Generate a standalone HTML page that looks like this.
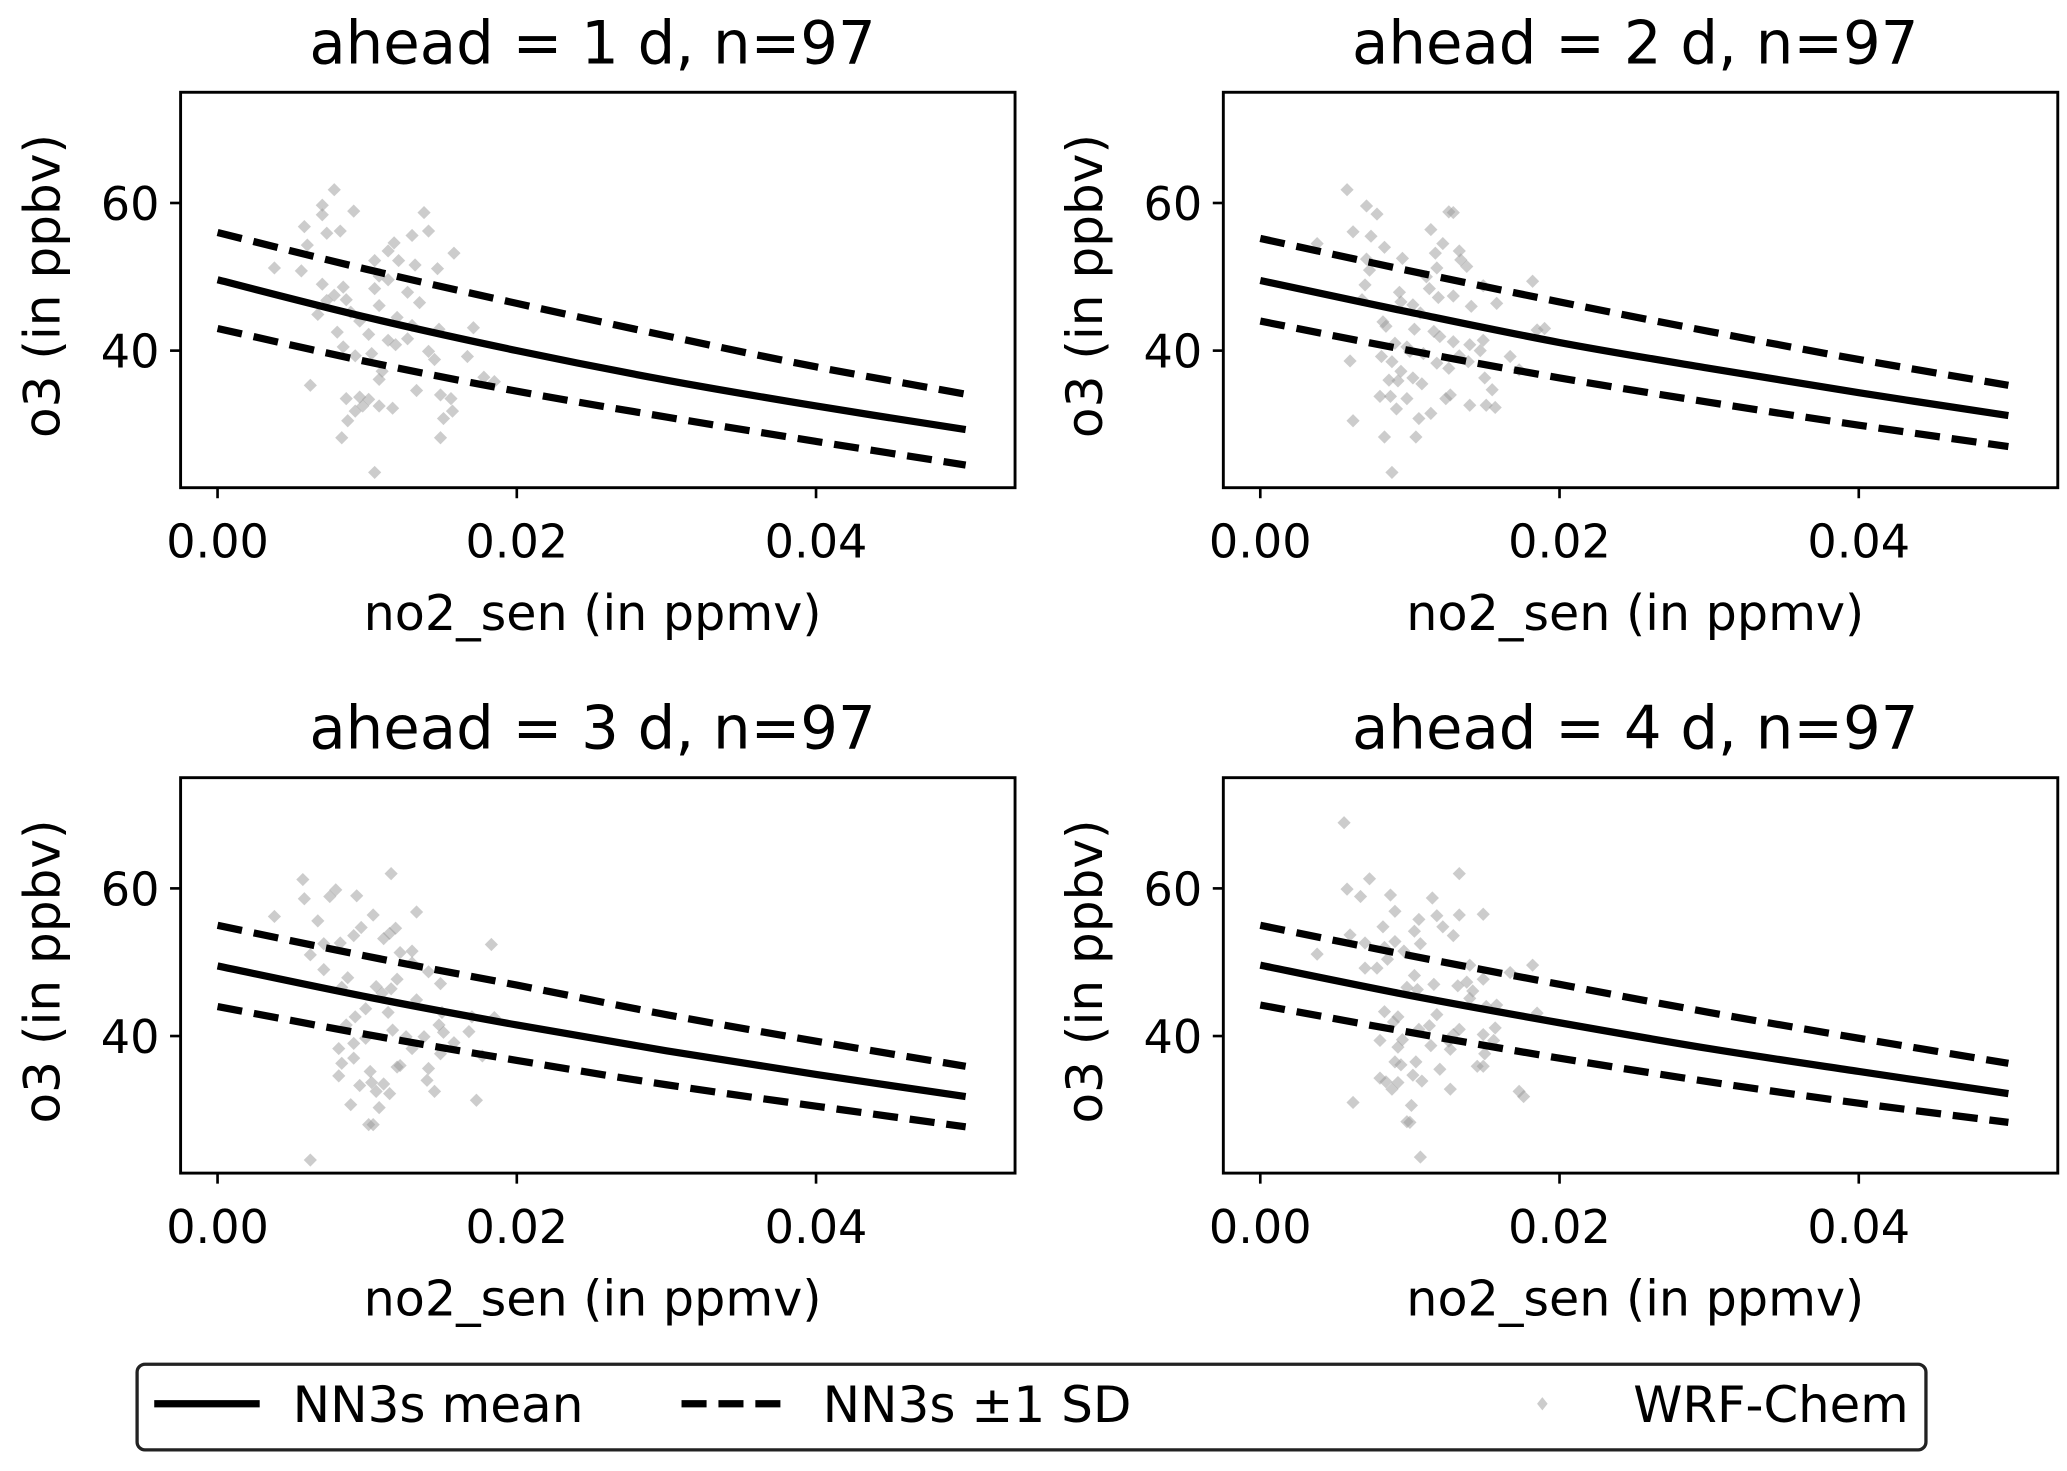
<!DOCTYPE html>
<html><head><meta charset="utf-8"><style>
html,body{margin:0;padding:0;background:#fff;}
svg{display:block;}
text{font-family:"DejaVu Sans","Liberation Sans",sans-serif;fill:#000;}
</style></head><body>
<svg id="fig" width="2067" height="1471" viewBox="0 0 1568 1116" preserveAspectRatio="none" xmlns="http://www.w3.org/2000/svg">
<g id="panels"></g>
<g>
<rect x="104" y="1035" width="1357" height="65" rx="6" fill="#fff" stroke="#222" stroke-width="2.5"/>
<line x1="117" y1="1065" x2="197" y2="1065" stroke="#000" stroke-width="5.5"/>
<text x="222" y="1079" font-size="38">NN3s mean</text>
<line x1="517" y1="1065" x2="594" y2="1065" stroke="#000" stroke-width="5.5" stroke-dasharray="19,9"/>
<text x="624" y="1079" font-size="38">NN3s ±1 SD</text>
<path d="M1170 1060 L1174 1065 L1170 1070 L1166 1065 Z" fill="#999" opacity="0.5"/>
<text x="1239" y="1079" font-size="37.7">WRF-Chem</text>
</g>
</svg>
<script>
const xGrid=[0,0.01,0.02,0.03,0.04,0.05];
const meanP1=[49.6,44.5,40.0,36.0,32.5,29.3];
const upperP1=[56.0,51.0,46.4,42.0,37.8,34.1];
const lowerP1=[43.0,38.5,34.5,31.0,27.7,24.5];
const meanP2=[49.5,45.2,41.1,37.6,34.3,31.2];
const upperP2=[55.2,50.8,46.6,42.6,38.8,35.3];
const lowerP2=[44.0,40.0,36.3,33.0,29.9,27.0];
const meanP3=[49.5,45.3,41.5,38.0,34.8,31.8];
const upperP3=[55.0,50.8,46.9,42.9,39.3,35.9];
const lowerP3=[44.0,40.2,36.7,33.4,30.5,27.7];
const meanP4=[49.6,45.5,41.8,38.3,35.2,32.2];
const upperP4=[55.0,50.9,47.0,43.2,39.7,36.3];
const lowerP4=[44.2,40.5,37.0,33.8,30.9,28.3];
const xTicks=[0,0.02,0.04];
const xTickLabels=["0.00","0.02","0.04"];
const yTicks=[40,60];
const yTickLabels=["40","60"];
const titles=["ahead = 1 d, n=97","ahead = 2 d, n=97","ahead = 3 d, n=97","ahead = 4 d, n=97"];
const scatterP1=[[.0078,61.8],[.007,59.7],[.007,58.4],[.0091,58.9],[.0138,58.7],[.0058,56.8],[.0073,55.9],[.0082,56.2],[.0141,56.2],[.013,55.6],[.0118,54.6],[.006,54.3],[.0158,53.2],[.0114,53.5],[.0121,52.2],[.0105,52.2],[.0038,51.2],[.0056,50.8],[.0132,51.6],[.0147,51.1],[.0108,50.1],[.0114,49.6],[.007,49],[.0084,48.6],[.0105,48.4],[.0127,47.9],[.0073,46.8],[.0086,46.9],[.0108,46.1],[.0067,44.9],[.0089,45.2],[.013,43.4],[.0148,42.9],[.0171,43.1],[.008,42.5],[.0101,42.2],[.0114,41.4],[.0127,41.6],[.0119,40.8],[.0084,40.5],[.0141,39.9],[.0092,39.3],[.0103,39.6],[.0145,38.8],[.0167,39.2],[.011,37.2],[.0178,36.4],[.0185,35.8],[.0108,36.1],[.0062,35.3],[.0133,34.6],[.0149,34],[.0086,33.5],[.0095,33.7],[.0101,33.4],[.0156,33.5],[.0097,32.5],[.0108,32.5],[.0117,32.2],[.0092,31.8],[.0157,31.8],[.0151,30.8],[.0087,30.5],[.0083,28.2],[.0149,28.2],[.0105,23.5],[.0095,44],[.0120,44.5],[.0078,47.5],[.0135,46.5]];
const scatterP2=[[.0058,61.8],[.0071,59.6],[.0078,58.5],[.0126,58.8],[.0129,58.7],[.0062,56.1],[.0074,55.5],[.0114,56.4],[.0038,54.5],[.0083,54],[.0122,54.5],[.0117,53.2],[.0133,53.5],[.0071,52.4],[.0095,52.5],[.0134,52.3],[.0138,51.4],[.0118,51.2],[.0073,50.9],[.0111,50],[.0182,49.4],[.007,48.9],[.0149,48.8],[.0113,48.4],[.0093,47.9],[.0129,47.4],[.0119,47.2],[.0068,46.9],[.0094,46.6],[.0158,46.4],[.0102,46.2],[.0141,46],[.0107,45.1],[.0082,43.9],[.0084,43.3],[.019,43],[.0185,42.8],[.0103,42.9],[.0116,42.6],[.012,41.9],[.0129,41.2],[.0149,41.4],[.009,41],[.014,40.8],[.0098,40.5],[.0147,40],[.01,39.9],[.0109,39.6],[.0133,39.3],[.0167,39.2],[.0081,39.2],[.006,38.6],[.0088,38.5],[.0118,38.3],[.0139,38.5],[.0126,37.6],[.0173,37.4],[.0094,37.2],[.0102,36.3],[.015,36.3],[.0086,36],[.0092,35.9],[.0108,35.5],[.0155,34.7],[.008,33.8],[.0087,33.8],[.0098,33.5],[.0124,33.5],[.0127,34],[.014,32.6],[.0151,32.6],[.0157,32.3],[.0091,32.1],[.0114,31.5],[.0106,30.8],[.0062,30.5],[.0083,28.3],[.0104,28.3],[.0088,23.5]];
const scatterP3=[[.0116,62],[.0057,61.2],[.0058,58.6],[.0075,58.9],[.0079,59.8],[.0093,59],[.0038,56.2],[.0104,56.4],[.0133,56.8],[.0067,55.6],[.0096,54.7],[.0091,53.6],[.0119,54.6],[.0111,53.2],[.0115,53.9],[.0082,52.6],[.0071,52.5],[.0183,52.4],[.0062,51],[.0122,51.3],[.013,51.5],[.013,49.9],[.0071,49],[.0141,48.7],[.012,47.7],[.0087,47.9],[.0149,47.1],[.0083,46.6],[.0106,46.7],[.0116,46.4],[.011,45.8],[.0133,44.9],[.0099,43.7],[.0114,43.2],[.0092,42.6],[.0185,42.5],[.017,42.6],[.015,43.2],[.0086,41.5],[.0148,41.5],[.0117,40.8],[.0151,40.5],[.0168,40.6],[.0099,39.7],[.0126,39.9],[.0138,39.9],[.0091,39],[.0158,39.1],[.0081,38.3],[.013,38.3],[.0149,37.6],[.0091,37],[.0177,37.3],[.0083,36.3],[.0122,36],[.012,35.8],[.0141,35.6],[.0102,35.2],[.0081,34.6],[.014,34],[.0103,33.7],[.0095,33.3],[.0111,33.5],[.0106,32.5],[.0115,32.2],[.0145,32.5],[.0173,31.3],[.0089,30.7],[.0108,30.3],[.0101,28],[.0104,28],[.0062,23.2]];
const scatterP4=[[.0056,68.9],[.0133,62],[.0073,61.3],[.0058,59.9],[.0067,58.9],[.0087,59.1],[.0115,58.7],[.009,56.9],[.0118,56.3],[.0133,56.4],[.0149,56.5],[.0106,55.8],[.0082,54.8],[.0122,54.8],[.0103,54.2],[.0129,53.6],[.006,53.7],[.009,52.8],[.0107,52.5],[.007,52.6],[.0083,52],[.0096,51.5],[.0038,51.1],[.0085,50.4],[.007,49.2],[.0078,49.2],[.014,49.6],[.0182,49.6],[.0167,48.6],[.0103,48.2],[.0149,47.7],[.0138,47.3],[.0116,47],[.0132,46.8],[.0098,46.6],[.0105,46.3],[.0142,46.1],[.014,45.1],[.0158,44.2],[.0151,44],[.0185,43.1],[.0083,43.3],[.0118,42.9],[.0092,42.6],[.0089,41.9],[.0157,41.1],[.0113,41.4],[.0106,40.9],[.0133,40.9],[.0149,40.2],[.0129,40.2],[.0156,39.4],[.008,39.4],[.0095,39.5],[.0126,39.3],[.0092,38.5],[.0114,38.7],[.0127,38.2],[.015,37.6],[.009,36.5],[.0094,36.1],[.0104,36.5],[.0145,35.9],[.0149,35.9],[.012,35.5],[.0102,34.7],[.0108,33.9],[.008,34.3],[.0084,33.8],[.0092,33.7],[.0088,32.8],[.0127,32.8],[.0173,32.5],[.0176,31.8],[.0062,31],[.0101,30.6],[.0098,28.4],[.01,28.3],[.0107,23.6]];

const NS="http://www.w3.org/2000/svg";
const xlim=[-0.00247,0.0533], ylim=[21.43,75];
const panelBoxes=[[137,70],[928,70],[137,590],[928,590]];
const W=633,H=300;
const panelData=[
 {mean:meanP1,upper:upperP1,lower:lowerP1,pts:scatterP1},
 {mean:meanP2,upper:upperP2,lower:lowerP2,pts:scatterP2},
 {mean:meanP3,upper:upperP3,lower:lowerP3,pts:scatterP3},
 {mean:meanP4,upper:upperP4,lower:lowerP4,pts:scatterP4}];
function mk(tag,attrs,parent){const e=document.createElementNS(NS,tag);for(const k in attrs)e.setAttribute(k,attrs[k]);parent.appendChild(e);return e;}
function curvePath(xs,ys,sx,sy){
 const p=xs.map((x,i)=>[sx(x),sy(ys[i])]);
 let d="M"+p[0][0]+" "+p[0][1];
 for(let i=0;i<p.length-1;i++){
  const p0=p[Math.max(0,i-1)],p1=p[i],p2=p[i+1],p3=p[Math.min(p.length-1,i+2)];
  const c1=[p1[0]+(p2[0]-p0[0])/6,p1[1]+(p2[1]-p0[1])/6];
  const c2=[p2[0]-(p3[0]-p1[0])/6,p2[1]-(p3[1]-p1[1])/6];
  d+=" C"+c1[0]+" "+c1[1]+" "+c2[0]+" "+c2[1]+" "+p2[0]+" "+p2[1];
 }
 return d;
}
const root=document.getElementById('panels');
panelData.forEach((pd,idx)=>{
 const [L,T]=panelBoxes[idx];
 const sx=v=>L+(v-xlim[0])/(xlim[1]-xlim[0])*W;
 const sy=v=>T+H-(v-ylim[0])/(ylim[1]-ylim[0])*H;
 const g=mk('g',{},root);
 
 
 const title=mk('text',{x:L+W/2-4,y:T-22,'font-size':45,'text-anchor':'middle'},g);
 title.textContent=titles[idx];
 
 
 const cp='clip'+idx;
 const cl=mk('clipPath',{id:cp},g);mk('rect',{x:L,y:T,width:W,height:H},cl);
 const sg=mk('g',{'clip-path':'url(#'+cp+')'},g);
 
 
 pd.pts.forEach(p=>{
  const cx=sx(p[0]),cy=sy(p[1]),r=5;
  const m=mk('path',{d:`M${cx} ${cy-r} L${cx+r} ${cy} L${cx} ${cy+r} L${cx-r} ${cy} Z`,fill:'#999','fill-opacity':0.5},sg);
  
  
 });
 [['upper',true],['lower',true],['mean',false]].forEach(([k,dash])=>{
  const a={d:curvePath(xGrid,pd[k],sx,sy),fill:'none',stroke:'#000','stroke-width':5.5};
  if(dash)a['stroke-dasharray']='19,9';
  const pe=mk('path',a,sg);
  
  
 });
 const fr=mk('rect',{x:L,y:T,width:W,height:H,fill:'none',stroke:'#000','stroke-width':2.2},g);
 
 
 xTicks.forEach((v,i)=>{
  const t=mk('line',{x1:sx(v),x2:sx(v),y1:T+H,y2:T+H+8,stroke:'#000','stroke-width':2},g);
  
  
  const tl=mk('text',{x:sx(v),y:T+H+53,'font-size':35,'text-anchor':'middle'},g);
  tl.textContent=xTickLabels[i];
  
  
 });
 yTicks.forEach((v,i)=>{
  const t=mk('line',{x1:L-8,x2:L,y1:sy(v),y2:sy(v),stroke:'#000','stroke-width':2},g);
  
  
  const tl=mk('text',{x:L-16,y:sy(v)+13,'font-size':35,'text-anchor':'end'},g);
  tl.textContent=yTickLabels[i];
  
  
 });
 const xl=mk('text',{x:L+W/2-4,y:T+H+108,'font-size':37.3,'text-anchor':'middle'},g);
 xl.textContent='no2_sen (in ppmv)';
 
 
 const yx=L-92,yy=T+H/2-3;
 const yl=mk('text',{x:yx,y:yy,'font-size':38,'text-anchor':'middle',transform:`rotate(-90 ${yx} ${yy})`},g);
 yl.textContent='o3 (in ppbv)';
 
 
});
</script>
</body></html>
